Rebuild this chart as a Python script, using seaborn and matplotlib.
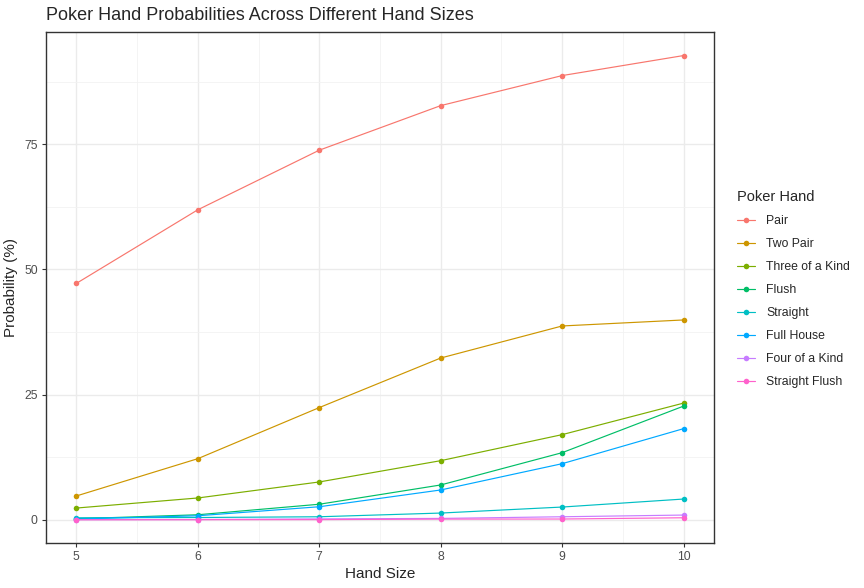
import pandas as pd
import numpy as np
import matplotlib
matplotlib.use("Agg")
import matplotlib.pyplot as plt
import seaborn as sns

# --- data ---
hand_sizes = [5, 6, 7, 8, 9, 10]
hands = ["Pair", "Two Pair", "Three of a Kind", "Flush", "Straight",
         "Full House", "Four of a Kind", "Straight Flush"]

pair = [47.2, 61.9, 73.8, 82.7, 88.7, 92.7]
two_pair = [4.75, 12.2, 22.4, 32.3, 38.7, 39.9]
three_kind = [2.34, 4.35, 7.55, 11.8, 17.0, 23.3]
flush = [0.2, 1.0, 3.1, 6.95, 13.4, 22.7]
straight = [0.4, 0.45, 0.6, 1.34, 2.54, 4.14]
full_house = [0.14, 0.8, 2.6, 5.95, 11.2, 18.2]
four_kind = [0.02, 0.05, 0.17, 0.27, 0.6, 0.94]
straight_flush = [0.0015, 0.01, 0.03, 0.13, 0.15, 0.4]

palette = ["#F8766D", "#CD9600", "#7CAE00", "#00BE67",
           "#00BFC4", "#00A9FF", "#C77CFF", "#FF61CC"]

series = [pair, two_pair, three_kind, flush, straight,
          full_house, four_kind, straight_flush]
df = pd.concat([
    pd.DataFrame({"Hand Size": hand_sizes, "Probability": vals, "Poker Hand": name})
    for name, vals in zip(hands, series)
])

sns.set_style("white")
plt.rcParams["font.family"] = ["Liberation Sans", "DejaVu Sans"]

fig = plt.figure(figsize=(8.64, 5.88), dpi=100)
ax = fig.add_axes([46 / 864, 45 / 588, 668 / 864, 511 / 588])

sns.lineplot(data=df, x="Hand Size", y="Probability", hue="Poker Hand",
             hue_order=hands, palette=palette, marker="o", markersize=4,
             markeredgewidth=0, linewidth=0.85, ax=ax, legend=False)

ax.set_xlim(4.75, 10.25)
ax.set_ylim(-4.64, 97.4)
ax.set_xticks(hand_sizes)
ax.set_yticks([0, 25, 50, 75])
ax.set_xticks([5.5, 6.5, 7.5, 8.5, 9.5], minor=True)
ax.set_yticks([12.5, 37.5, 62.5, 87.5], minor=True)
ax.grid(True, which="major", color="#EBEBEB", linewidth=1.0)
ax.grid(True, which="minor", color="#F2F2F2", linewidth=0.6)
ax.set_axisbelow(True)
for s in ax.spines.values():
    s.set_color("#333333")
    s.set_linewidth(1.0)
ax.tick_params(axis="both", which="major", length=3, color="#333333",
               labelsize=8.8, labelcolor="#4D4D4D", pad=3, bottom=True, left=True)
ax.tick_params(axis="both", which="minor", length=0)
ax.set_xlabel("Hand Size", fontsize=11, labelpad=3)
ax.set_ylabel("Probability (%)", fontsize=11, labelpad=4)

fig.text(46 / 864, 1 - 16 / 588, "Poker Hand Probabilities Across Different Hand Sizes",
         fontsize=13, va="center", ha="left")

# legend
handles = [plt.Line2D([], [], color=c, marker="o", markersize=4,
                      markeredgewidth=0, linewidth=0.85) for c in palette]
fig.legend(handles, hands, title="Poker Hand", loc="upper left",
           bbox_to_anchor=(726 / 864, 1 - 179 / 588), frameon=False,
           fontsize=8.8, title_fontsize=10.5, handlelength=1.5,
           labelspacing=0.9, alignment="left", handletextpad=0.9)

fig.savefig("out.png", dpi=100, facecolor="white")
